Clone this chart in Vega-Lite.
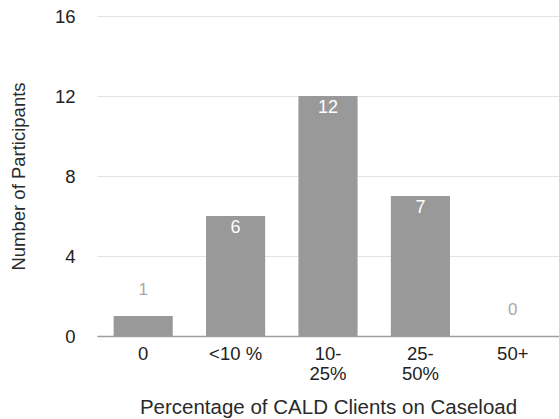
{
  "$schema": "https://vega.github.io/schema/vega-lite/v6.json",
  "width": 462,
  "height": 320,
  "autosize": {"type": "none"},
  "padding": {"left": 97, "top": 16, "right": 0, "bottom": 83},
  "background": "white",
  "config": {"view": {"stroke": null}, "font": "Liberation Sans"},
  "data": {"values": [
    {"category": "0", "count": 1},
    {"category": "<10 %", "count": 6},
    {"category": "10-25%", "count": 12},
    {"category": "25-50%", "count": 7},
    {"category": "50+", "count": 0}
  ]},
  "encoding": {
    "x": {
      "field": "category", "type": "nominal", "sort": null,
      "scale": {"paddingInner": 0.36, "paddingOuter": 0.18},
      "axis": {
        "title": "Percentage of CALD Clients on Caseload",
        "titleFontSize": 20.5, "titleFontWeight": "normal", "titleColor": "#2a2a2a",
        "titleBaseline": "alphabetic", "titleY": 77,
        "labelAngle": 0, "labelFontSize": 18.5, "labelColor": "#222222", "labelPadding": 8, "labelLineHeight": 20,
        "labelExpr": "datum.label == '10-25%' ? ['10-','25%'] : datum.label == '25-50%' ? ['25-','50%'] : datum.label",
        "ticks": false, "domainColor": "#9e9e9e", "domainWidth": 1.5
      }
    }
  },
  "layer": [
    {
      "mark": {"type": "bar", "color": "#999999"},
      "encoding": {
        "y": {
          "field": "count", "type": "quantitative",
          "scale": {"domain": [0, 16]},
          "axis": {
            "title": "Number of Participants", "titleFontSize": 18.5, "titleFontWeight": "normal", "titleColor": "#2a2a2a",
            "titleX": -79, "titleY": 160, "titleAngle": -90, "titleBaseline": "middle",
            "values": [0, 4, 8, 12, 16], "labelFontSize": 18.5, "labelColor": "#222222", "labelPadding": 22,
            "ticks": false, "domain": false, "gridColor": "#e3e3e3"
          }
        }
      }
    },
    {
      "transform": [{"filter": "datum.count >= 3"}],
      "mark": {"type": "text", "color": "white", "baseline": "top", "dy": 3, "fontSize": 18},
      "encoding": {
        "y": {"field": "count", "type": "quantitative"},
        "text": {"field": "count", "type": "quantitative"}
      }
    },
    {
      "transform": [{"filter": "datum.count < 3"}],
      "mark": {"type": "text", "color": "#a8a8a8", "baseline": "alphabetic", "dy": -21, "fontSize": 17},
      "encoding": {
        "y": {"field": "count", "type": "quantitative"},
        "text": {"field": "count", "type": "quantitative"}
      }
    }
  ]
}
